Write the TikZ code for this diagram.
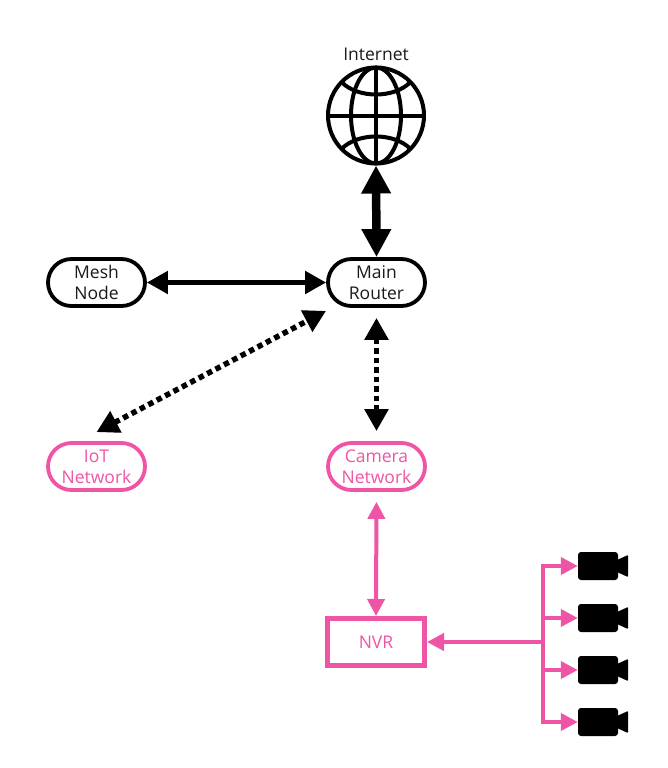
\documentclass[tikz,border=0pt]{standalone}
\usepackage{fontspec}
\setmainfont{Open Sans}
\usetikzlibrary{arrows.meta}
\definecolor{netpink}{HTML}{EE55A4}
\definecolor{inktext}{HTML}{1A1A1A}
\tikzset{
  x=1pt, y=-1pt,
  every node/.style={font=\fontsize{17.5}{21}\selectfont, align=center, inner sep=0pt},
  hub/.style={draw=black, line width=3.8pt, rectangle, rounded corners=23.5pt,
    minimum width=97pt, minimum height=47pt, text=inktext, fill=white},
  pinkhub/.style={hub, draw=netpink, text=netpink},
  nvrbox/.style={draw=netpink, line width=5pt, rectangle, minimum width=97pt,
    minimum height=47pt, text=netpink},
  globering/.style={draw=black, line width=4pt, circle, minimum size=96pt},
  globeline/.style={draw=black, line width=4pt},
  cambody/.style={fill=black, rectangle, rounded corners=3pt, minimum width=40pt, minimum height=28pt},
  uplink/.style={draw=black, line width=8.5pt, {Triangle[length=28pt,width=28pt]}-{Triangle[length=28pt,width=28pt]}},
  backhaul/.style={draw=black, line width=5pt, {Triangle[length=21pt,width=22pt]}-{Triangle[length=21pt,width=22pt]}},
  vlanlink/.style={draw=black, line width=5.5pt, dash pattern=on 5.5pt off 4pt, {Triangle[length=22pt,width=23pt]}-{Triangle[length=22pt,width=23pt]}},
  pinklink/.style={draw=netpink, line width=4pt, {Triangle[length=17pt,width=17pt]}-{Triangle[length=17pt,width=17pt]}},
  feed/.style={draw=netpink, line width=4pt, -{Triangle[length=17pt,width=17pt]}}
}
\begin{document}
\begin{tikzpicture}
\useasboundingbox (0,0) rectangle (668,768);

% Globe
\node[text=inktext] (inetlabel) at (376,54) {Internet};
\node[globering] (globe) at (376,115.5) {};
\begin{scope}[shift={(globe.center)}]
  \draw[globeline] (0,0) ellipse [x radius=25, y radius=48];
  \draw[globeline] (0,-48) -- (0,48);
  \draw[globeline] (-48,0) -- (48,0);
  \draw[globeline] (-34,-33) .. controls (-18,-17) and (18,-17) .. (34,-33);
  \draw[globeline] (-34,33) .. controls (-18,17) and (18,17) .. (34,33);
\end{scope}

% Network nodes
\node[hub] (router) at (376.5,282.5) {Main\\Router};
\node[hub] (mesh) at (96.5,282.5) {Mesh\\Node};
\node[pinkhub] (iot) at (96.5,466.5) {IoT\\Network};
\node[pinkhub] (camnet) at (376.5,466.5) {Camera\\Network};
\node[nvrbox] (nvr) at (376,642) {NVR};

% Cameras: a body and a lens flare on its right side
\foreach \n/\yy in {1/566, 2/618, 3/670, 4/722} {
  \node[cambody] (cam\n) at (598,\yy) {};
  \fill[black, rounded corners=0.8pt] (617,\yy-6) -- (628,\yy-11) -- (628,\yy+11) -- (617,\yy+6) -- cycle;
}

% Wired links
\draw[uplink] (globe.south) -- (router.north);
\draw[backhaul] (mesh.east) -- (router.west);
\draw[vlanlink, shorten <=10pt, shorten >=10pt] (router.south) -- (camnet.north);
\draw[vlanlink] ([yshift=9pt]iot.north) -- ([yshift=-3pt]router.south west);

% Camera network
\coordinate (bus) at (543,642);
\draw[pinklink, shorten <=10pt] (camnet.south) -- (nvr.north);
\draw[feed] (bus) -- (nvr.east);
\foreach \n in {1,2,3,4} {
  \draw[feed] (bus) |- (cam\n.west);
}
\end{tikzpicture}
\end{document}
